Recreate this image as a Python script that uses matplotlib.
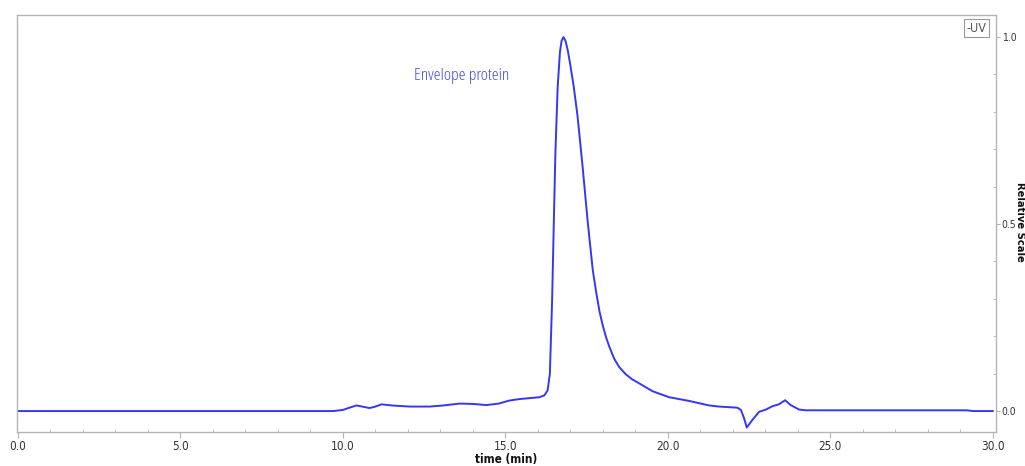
import matplotlib
matplotlib.use('Agg')
import matplotlib.pyplot as plt
from matplotlib.ticker import MultipleLocator

# chromatogram trace (time in min, relative scale)
time_min = [0.0, 9.7, 10.0, 10.2, 10.42, 10.65, 10.82, 11.0, 11.19, 11.5,
            12.05, 12.67, 13.1, 13.59, 14.0, 14.42, 14.8, 15.12, 15.43, 15.8,
            16.05, 16.2, 16.3, 16.37, 16.44, 16.49, 16.54, 16.61, 16.68, 16.73,
            16.79, 16.85, 16.92, 16.99, 17.1, 17.22, 17.37, 17.53, 17.69, 17.8,
            17.9, 18.0, 18.1, 18.2, 18.35, 18.5, 18.71, 18.9, 19.12, 19.53,
            20.04, 20.66, 21.27, 21.58, 22.14, 22.25, 22.35, 22.43, 22.6, 22.81,
            23.02, 23.22, 23.42, 23.61, 23.78, 24.04, 24.25, 29.2, 29.4, 30.0]
uv_signal = [0.0, 0.0, 0.003, 0.009, 0.015, 0.011, 0.008, 0.012, 0.018, 0.015,
             0.012, 0.012, 0.015, 0.02, 0.019, 0.016, 0.02, 0.028, 0.032, 0.035,
             0.037, 0.042, 0.055, 0.1, 0.3, 0.5, 0.69, 0.867, 0.96, 0.99,
             1.0, 0.99, 0.965, 0.93, 0.87, 0.79, 0.66, 0.51, 0.377, 0.315,
             0.265, 0.228, 0.197, 0.172, 0.14, 0.118, 0.098, 0.085, 0.074, 0.053,
             0.037, 0.027, 0.015, 0.012, 0.009, 0.003, -0.02, -0.044, -0.024, -0.002,
             0.004, 0.013, 0.018, 0.029, 0.016, 0.004, 0.002, 0.002, 0.0, 0.0]

x_ticks = [0, 5, 10, 15, 20, 25, 30]
y_ticks = [0.0, 0.5, 1.0]
peak_label = 'Envelope protein'

plt.rcParams['font.family'] = ['DejaVu Sans']
plt.rcParams['font.stretch'] = 'condensed'

line_color = '#3636f5'
spine_color = '#b4b4b4'
text_color = '#333333'

fig = plt.figure(figsize=(10.25, 4.66), dpi=100)
ax = fig.add_axes([17 / 1025, 34 / 466, 979 / 1025, 417 / 466])

ax.plot(time_min, uv_signal, color=line_color, lw=1.4)

ax.set_xlim(-0.03, 30.1)
ax.set_ylim(-0.056, 1.059)

ax.set_xticks(x_ticks)
ax.set_xticklabels([f'{t:.1f}' for t in x_ticks])
ax.xaxis.set_minor_locator(MultipleLocator(1))
ax.set_yticks(y_ticks)
ax.set_yticklabels([f'{v:.1f}' for v in y_ticks])
ax.yaxis.set_minor_locator(MultipleLocator(0.1))
ax.yaxis.tick_right()

ax.tick_params(axis='x', which='major', labelsize=8.5, colors=spine_color,
               labelcolor=text_color, length=4, width=0.8, pad=2)
ax.tick_params(axis='y', which='major', labelsize=7.5, colors=spine_color,
               labelcolor=text_color, length=3, width=0.8, pad=1)
ax.tick_params(axis='x', which='minor', direction='in', length=2,
               color=spine_color)
ax.tick_params(axis='y', which='minor', direction='in', length=2,
               color=spine_color)

for s in ax.spines.values():
    s.set_color(spine_color)
    s.set_linewidth(1.0)

ax.set_xlabel('time (min)', fontsize=8.5, fontweight='bold', labelpad=0,
              color='#111111')
fig.text(1020 / 1025, 1 - 222 / 466, 'Relative Scale', rotation=-90,
         fontsize=8, fontweight='bold', ha='center', va='center',
         color='#111111')

ax.text(13.66, 0.895, peak_label, color='#4a4ae0', fontsize=12.5,
        ha='center', va='center', family=['Open Sans', 'DejaVu Sans'],
        stretch='condensed')

ax.text(29.5, 1.023, '-UV', fontsize=9, ha='center', va='center',
        color='#555555',
        bbox=dict(boxstyle='square,pad=0.2', fc='white', ec='#999999', lw=0.8))

fig.savefig('out.png', dpi=100)
